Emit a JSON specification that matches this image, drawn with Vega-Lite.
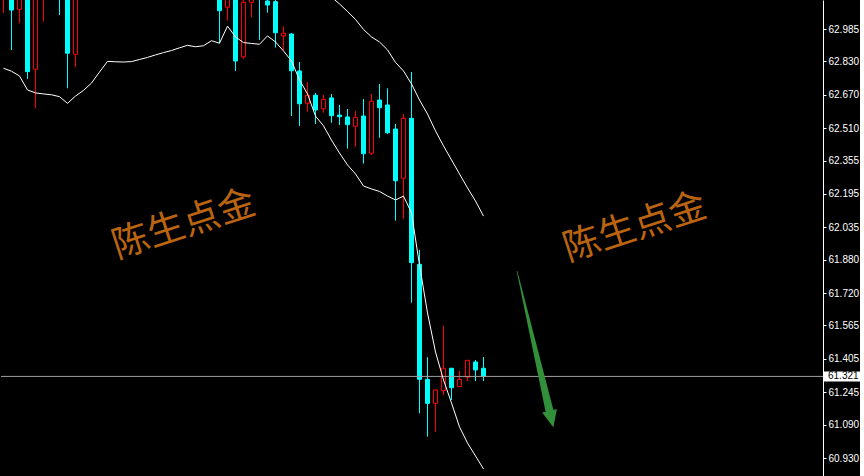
{
  "$schema": "https://vega.github.io/schema/vega-lite/v6.json",
  "width": 822,
  "height": 476,
  "padding": 0,
  "background": "#000000",
  "config": {"view": {"stroke": null}},
  "datasets": {
    "candles": [
      {"i":0,"o":63.14,"h":63.30,"l":63.062,"c":63.25,"lb":62.797},
      {"i":1,"o":63.26,"h":63.30,"l":62.884,"c":63.076,"lb":62.783},
      {"i":2,"o":63.079,"h":63.25,"l":63.012,"c":63.21,"lb":62.760},
      {"i":3,"o":63.22,"h":63.26,"l":62.746,"c":62.781,"lb":62.693},
      {"i":4,"o":62.792,"h":63.22,"l":62.605,"c":63.18,"lb":62.679},
      {"i":5,"o":63.17,"h":63.33,"l":63.020,"c":63.29,"lb":62.674},
      {"i":6,"o":63.29,"h":63.34,"l":63.15,"c":63.20,"lb":62.670},
      {"i":7,"o":63.21,"h":63.25,"l":63.052,"c":63.14,"lb":62.661},
      {"i":8,"o":63.15,"h":63.18,"l":62.701,"c":62.869,"lb":62.629},
      {"i":9,"o":62.864,"h":63.22,"l":62.802,"c":63.17,"lb":62.664},
      {"i":10,"o":63.17,"h":63.32,"l":63.14,"c":63.28,"lb":62.691},
      {"i":11,"o":63.28,"h":63.40,"l":63.24,"c":63.36,"lb":62.726},
      {"i":12,"o":63.36,"h":63.42,"l":63.27,"c":63.31,"lb":62.779},
      {"i":13,"o":63.31,"h":63.46,"l":63.28,"c":63.42,"lb":62.830},
      {"i":14,"o":63.42,"h":63.52,"l":63.38,"c":63.48,"lb":62.828},
      {"i":15,"o":63.48,"h":63.53,"l":63.36,"c":63.40,"lb":62.827},
      {"i":16,"o":63.40,"h":63.50,"l":63.35,"c":63.46,"lb":62.829},
      {"i":17,"o":63.46,"h":63.57,"l":63.42,"c":63.52,"lb":62.839},
      {"i":18,"o":63.52,"h":63.55,"l":63.40,"c":63.44,"lb":62.849},
      {"i":19,"o":63.44,"h":63.48,"l":63.33,"c":63.38,"lb":62.861},
      {"i":20,"o":63.38,"h":63.49,"l":63.34,"c":63.45,"lb":62.872},
      {"i":21,"o":63.45,"h":63.48,"l":63.31,"c":63.36,"lb":62.882},
      {"i":22,"o":63.36,"h":63.40,"l":63.25,"c":63.30,"lb":62.895},
      {"i":23,"o":63.30,"h":63.39,"l":63.26,"c":63.35,"lb":62.907},
      {"i":24,"o":63.35,"h":63.38,"l":63.22,"c":63.27,"lb":62.900},
      {"i":25,"o":63.27,"h":63.31,"l":63.17,"c":63.22,"lb":62.905},
      {"i":26,"o":63.22,"h":63.30,"l":63.16,"c":63.26,"lb":62.929},
      {"i":27,"o":63.25,"h":63.29,"l":62.917,"c":63.073,"lb":62.917},
      {"i":28,"o":63.089,"h":63.24,"l":63.025,"c":63.20,"lb":62.999},
      {"i":29,"o":63.21,"h":63.24,"l":62.784,"c":62.832,"lb":62.947},
      {"i":30,"o":62.852,"h":63.14,"l":62.841,"c":63.113,"lb":62.920},
      {"i":31,"o":63.113,"h":63.16,"l":63.041,"c":63.135,"lb":62.916},
      {"i":32,"o":63.19,"h":63.22,"l":62.932,"c":63.14,"lb":62.912},
      {"i":33,"o":63.119,"h":63.13,"l":63.063,"c":63.100,"lb":62.952},
      {"i":34,"o":63.116,"h":63.13,"l":62.896,"c":62.967,"lb":62.923},
      {"i":35,"o":62.952,"h":62.999,"l":62.884,"c":62.965,"lb":62.880},
      {"i":36,"o":62.961,"h":62.966,"l":62.568,"c":62.785,"lb":62.832},
      {"i":37,"o":62.784,"h":62.827,"l":62.520,"c":62.627,"lb":62.741},
      {"i":38,"o":62.629,"h":62.731,"l":62.589,"c":62.668,"lb":62.674},
      {"i":39,"o":62.668,"h":62.679,"l":62.530,"c":62.597,"lb":62.568,"ub":63.229},
      {"i":40,"o":62.603,"h":62.670,"l":62.584,"c":62.648,"lb":62.521,"ub":63.181},
      {"i":41,"o":62.655,"h":62.674,"l":62.536,"c":62.570,"lb":62.453,"ub":63.138},
      {"i":42,"o":62.573,"h":62.621,"l":62.525,"c":62.565,"lb":62.391,"ub":63.105},
      {"i":43,"o":62.564,"h":62.602,"l":62.412,"c":62.527,"lb":62.334,"ub":63.069},
      {"i":44,"o":62.519,"h":62.592,"l":62.421,"c":62.562,"lb":62.291,"ub":63.031},
      {"i":45,"o":62.568,"h":62.650,"l":62.340,"c":62.388,"lb":62.233,"ub":62.983},
      {"i":46,"o":62.390,"h":62.674,"l":62.382,"c":62.639,"lb":62.219,"ub":62.947},
      {"i":47,"o":62.645,"h":62.722,"l":62.464,"c":62.608,"lb":62.207,"ub":62.923},
      {"i":48,"o":62.621,"h":62.701,"l":62.482,"c":62.488,"lb":62.185,"ub":62.885},
      {"i":49,"o":62.506,"h":62.530,"l":62.067,"c":62.258,"lb":62.166,"ub":62.825},
      {"i":50,"o":62.270,"h":62.578,"l":62.074,"c":62.557,"lb":62.185,"ub":62.784},
      {"i":51,"o":62.557,"h":62.779,"l":61.674,"c":61.866,"lb":62.104,"ub":62.722},
      {"i":52,"o":61.858,"h":61.927,"l":61.144,"c":61.307,"lb":61.855,"ub":62.645},
      {"i":53,"o":61.307,"h":61.413,"l":61.032,"c":61.192,"lb":61.625,"ub":62.578},
      {"i":54,"o":61.192,"h":61.259,"l":61.056,"c":61.256,"lb":61.438,"ub":62.497},
      {"i":55,"o":61.253,"h":61.564,"l":61.232,"c":61.360,"lb":61.304,"ub":62.425},
      {"i":56,"o":61.360,"h":61.362,"l":61.208,"c":61.267,"lb":61.194,"ub":62.358},
      {"i":57,"o":61.272,"h":61.347,"l":61.270,"c":61.307,"lb":61.079,"ub":62.291},
      {"i":58,"o":61.317,"h":61.400,"l":61.299,"c":61.398,"lb":61.002,"ub":62.224},
      {"i":59,"o":61.390,"h":61.400,"l":61.299,"c":61.352,"lb":60.940,"ub":62.161},
      {"i":60,"o":61.360,"h":61.414,"l":61.299,"c":61.321,"lb":60.878,"ub":62.089}
    ],
    "marks": [
      {"label": "陈生点金", "i": 22.56, "p": 62.046},
      {"label": "陈生点金", "i": 78.94, "p": 62.032}
    ],
    "last": [
      {"label": "61.321", "i": 103.0625, "i2": 102.5625, "i3": 107.0625, "p": 61.321}
    ],
    "arrow": [
      {"i": 66.456, "p": 61.452}
    ]
  },
  "data": {"name": "candles"},
  "layer": [
    {
      "mark": {"type": "rule", "strokeWidth": 1, "clip": true},
      "encoding": {
        "x": {"field": "i", "type": "quantitative", "scale": {"domain": [-0.3125, 102.4375], "nice": false, "zero": false, "padding": 0}, "axis": null},
        "y": {"field": "l", "type": "quantitative", "title": null,
          "scale": {"domain": [60.844, 63.124], "nice": false, "zero": false, "padding": 0},
          "axis": {"orient": "right", "values": [62.985, 62.83, 62.67, 62.51, 62.355, 62.195, 62.035, 61.88, 61.72, 61.565, 61.405, 61.245, 61.09, 60.93],
            "tickCount": 30, "format": ".3f", "labelColor": "#ffffff", "tickColor": "#ffffff", "domainColor": "#ffffff",
            "tickSize": 3, "labelPadding": 2, "grid": false, "labelFont": "Liberation Sans", "labelFontSize": 10,
            "labelOverlap": false, "labelFlush": false, "labelBound": false, "title": null}},
        "y2": {"field": "h"},
        "color": {"condition": {"test": "datum.c < datum.o", "value": "#00ffff"}, "value": "#ff0000"}
      }
    },
    {
      "mark": {"type": "bar", "size": 4, "strokeWidth": 1, "clip": true},
      "encoding": {
        "x": {"field": "i", "type": "quantitative", "axis": null},
        "y": {"field": "o", "type": "quantitative", "title": null},
        "y2": {"field": "c"},
        "fill": {"condition": {"test": "datum.c < datum.o", "value": "#00ffff"}, "value": "#000000"},
        "stroke": {"condition": {"test": "datum.c < datum.o", "value": "#00ffff"}, "value": "#ff0000"}
      }
    },
    {
      "data": {"name": "last"},
      "mark": {"type": "rule", "color": "#a0a0a0", "strokeWidth": 1},
      "encoding": {"y": {"field": "p", "type": "quantitative", "title": null}}
    },
    {
      "mark": {"type": "line", "color": "#ffffff", "strokeWidth": 1, "clip": true},
      "encoding": {
        "x": {"field": "i", "type": "quantitative", "axis": null},
        "y": {"field": "lb", "type": "quantitative", "title": null}
      }
    },
    {
      "mark": {"type": "line", "color": "#ffffff", "strokeWidth": 1, "clip": true},
      "encoding": {
        "x": {"field": "i", "type": "quantitative", "axis": null},
        "y": {"field": "ub", "type": "quantitative", "title": null}
      }
    },
    {
      "data": {"name": "last"},
      "mark": {"type": "rect", "fill": "#ffffff", "height": 10},
      "encoding": {
        "x": {"field": "i2", "type": "quantitative", "axis": null},
        "x2": {"field": "i3"},
        "y": {"field": "p", "type": "quantitative", "title": null}
      }
    },
    {
      "data": {"name": "last"},
      "mark": {"type": "text", "align": "left", "baseline": "middle", "font": "Liberation Sans", "fontSize": 10, "color": "#000000"},
      "encoding": {
        "x": {"field": "i", "type": "quantitative", "axis": null},
        "y": {"field": "p", "type": "quantitative", "title": null},
        "text": {"field": "label"}
      }
    },
    {
      "data": {"name": "marks"},
      "mark": {"type": "text", "align": "center", "baseline": "middle", "font": "Noto Sans CJK SC", "fontSize": 37, "angle": -18, "color": "#bb6410"},
      "encoding": {
        "x": {"field": "i", "type": "quantitative", "axis": null},
        "y": {"field": "p", "type": "quantitative", "title": null},
        "text": {"field": "label"}
      }
    },
    {
      "data": {"name": "arrow"},
      "mark": {"type": "point", "shape": "M -0.004 -1 L 0.004 -1 L 0.05 0.79 L 0.095 0.79 L 0 1 L -0.095 0.79 L -0.05 0.79 Z", "size": 25760, "angle": -13.1, "filled": true, "color": "#33903a", "opacity": 1},
      "encoding": {
        "x": {"field": "i", "type": "quantitative", "axis": null},
        "y": {"field": "p", "type": "quantitative", "title": null}
      }
    }
  ]
}
